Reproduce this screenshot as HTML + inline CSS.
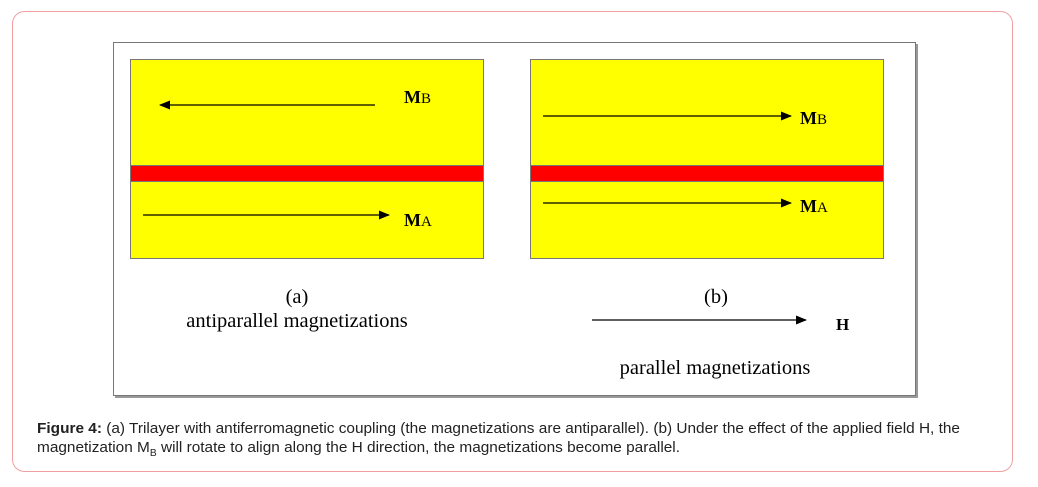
<!DOCTYPE html>
<html><head><meta charset="utf-8"><style>
html,body{margin:0;padding:0;background:#fff;width:1038px;height:487px;overflow:hidden}
</style></head><body>
<svg width="1038" height="487" xmlns="http://www.w3.org/2000/svg">
<defs>
<marker id="ah" markerWidth="11" markerHeight="9" refX="10" refY="4.5" orient="auto" markerUnits="userSpaceOnUse">
<path d="M0,0 L11,4.5 L0,9 z" fill="#000"/></marker>
</defs>
<rect x="12.5" y="11.5" width="1000" height="460" rx="12" fill="#fff" stroke="#f0a0a0" stroke-width="1"/>
<rect x="115" y="44" width="803" height="354" fill="#999"/>
<rect x="113.5" y="42.5" width="802" height="353" fill="#fff" stroke="#777" stroke-width="1"/>
<g font-family="Liberation Serif, serif" fill="#000">
<rect x="130.5" y="59.5" width="353" height="199" fill="#ffff00" stroke="#777"/>
<rect x="130.5" y="165.5" width="353" height="16" fill="#ff0000" stroke="#777"/>
<line x1="375" y1="105" x2="160" y2="105" stroke="#000" stroke-width="1.3" marker-end="url(#ah)"/>
<line x1="143" y1="215" x2="389" y2="215" stroke="#000" stroke-width="1.3" marker-end="url(#ah)"/>
<text x="404" y="103" font-size="18" font-weight="bold">M<tspan font-size="15" font-weight="normal">B</tspan></text>
<text x="404" y="226" font-size="18" font-weight="bold">M<tspan font-size="15" font-weight="normal">A</tspan></text>

<rect x="530.5" y="59.5" width="353" height="199" fill="#ffff00" stroke="#777"/>
<rect x="530.5" y="165.5" width="353" height="16" fill="#ff0000" stroke="#777"/>
<line x1="543" y1="116" x2="791" y2="116" stroke="#000" stroke-width="1.3" marker-end="url(#ah)"/>
<line x1="543" y1="203" x2="791" y2="203" stroke="#000" stroke-width="1.3" marker-end="url(#ah)"/>
<text x="800" y="124" font-size="18" font-weight="bold">M<tspan font-size="15" font-weight="normal">B</tspan></text>
<text x="800" y="212" font-size="18" font-weight="bold">M<tspan font-size="15" font-weight="normal">A</tspan></text>

<text x="297" y="303" font-size="20.5" text-anchor="middle">(a)</text>
<text x="297" y="327" font-size="20.5" text-anchor="middle">antiparallel magnetizations</text>
<text x="716" y="303" font-size="20.5" text-anchor="middle">(b)</text>
<line x1="592" y1="320" x2="806" y2="320" stroke="#000" stroke-width="1.3" marker-end="url(#ah)"/>
<text x="836" y="330" font-size="17" font-weight="bold">H</text>
<text x="715" y="374" font-size="20.5" text-anchor="middle">parallel magnetizations</text>
</g>
<g font-family="Liberation Sans Narrow, Liberation Sans, sans-serif" font-size="15" fill="#222">
<text x="37" y="433" textLength="923" lengthAdjust="spacingAndGlyphs"><tspan font-weight="bold">Figure 4:</tspan> (a) Trilayer with antiferromagnetic coupling (the magnetizations are antiparallel). (b) Under the effect of the applied field H, the</text>
<text x="37" y="452" textLength="643" lengthAdjust="spacingAndGlyphs">magnetization M<tspan font-size="10" dy="4">B</tspan><tspan dy="-4"> will rotate to align along the H direction, the magnetizations become parallel.</tspan></text>
</g>
</svg>
</body></html>
